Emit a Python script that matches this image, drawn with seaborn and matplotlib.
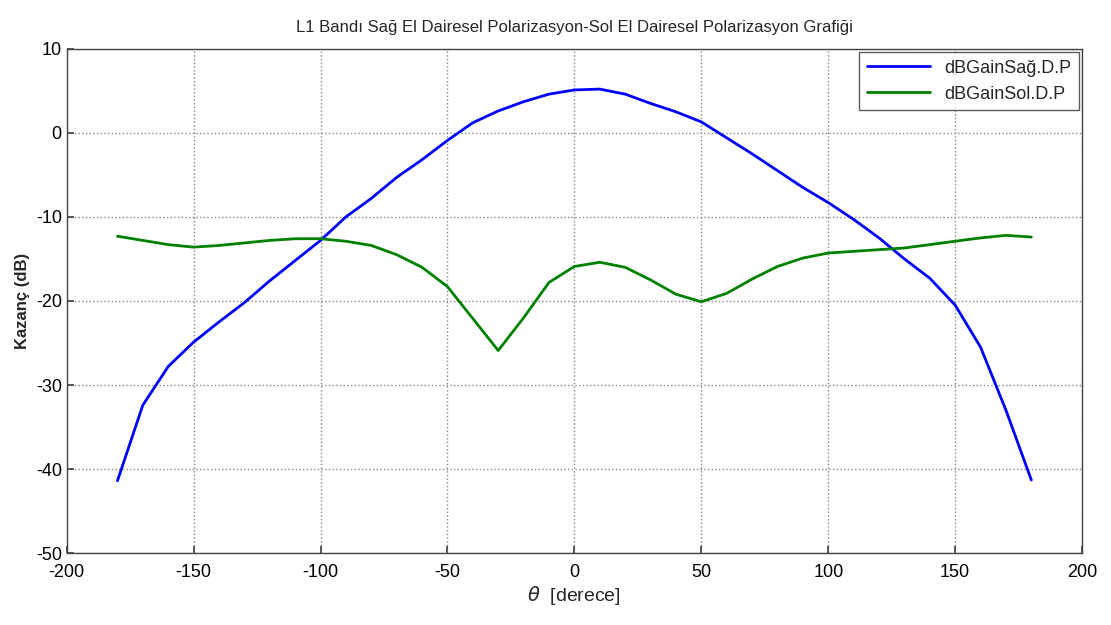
import pandas as pd
import seaborn as sns
import matplotlib.pyplot as plt

# aci degerleri (derece)
theta = list(range(-180, 181, 10))

# sag el dairesel polarizasyon kazanci (dB)
sag_dp = [-41.4, -32.4, -27.8, -24.9, -22.5, -20.2, -17.6, -15.2, -12.8, -10.0,
          -7.8, -5.3, -3.2, -0.9, 1.2, 2.6, 3.7, 4.6, 5.1,
          5.2, 4.6, 3.5, 2.5, 1.3, -0.6, -2.5, -4.5, -6.5, -8.3,
          -10.3, -12.5, -15.0, -17.3, -20.5, -25.5, -33.0, -41.3]

# sol el dairesel polarizasyon kazanci (dB)
sol_dp = [-12.3, -12.8, -13.3, -13.6, -13.4, -13.1, -12.8, -12.6, -12.6, -12.9,
          -13.4, -14.5, -16.0, -18.3, -22.1, -25.9, -22.0, -17.8, -15.9,
          -15.4, -16.0, -17.5, -19.2, -20.1, -19.1, -17.4, -15.9, -14.9,
          -14.3, -14.1, -13.9, -13.7, -13.3, -12.9, -12.5, -12.2, -12.4]

seriler = ["dBGainSağ.D.P", "dBGainSol.D.P"]

df = pd.concat([
    pd.DataFrame({"theta": theta, "gain": sag_dp, "seri": seriler[0]}),
    pd.DataFrame({"theta": theta, "gain": sol_dp, "seri": seriler[1]}),
])

sns.set_theme(style="ticks")
plt.rcParams["font.family"] = ["Liberation Sans", "DejaVu Sans"]
plt.rcParams["axes.unicode_minus"] = False

fig = plt.figure(figsize=(11.11, 6.25), dpi=100)
ax = fig.add_axes([0.060, 0.115, 0.914, 0.807])

sns.lineplot(data=df, x="theta", y="gain", hue="seri",
             palette={seriler[0]: "#0000ff", seriler[1]: "#008000"},
             linewidth=2, ax=ax)

ax.set_xlim(-200, 200)
ax.set_ylim(-50, 10)
ax.set_xticks(range(-200, 201, 50))
ax.set_yticks(range(-50, 11, 10))
ax.grid(True, linestyle=":", color="#888888", linewidth=1)
ax.tick_params(direction="in", length=5, labelsize=13, color="#444444",
               labelcolor="black")
ax.tick_params(axis="x", pad=8)
for s in ax.spines.values():
    s.set_color("#444444")
    s.set_linewidth(1)

ax.set_title("L1 Bandı Sağ El Dairesel Polarizasyon-Sol El Dairesel Polarizasyon Grafiği",
             fontsize=12, pad=12)
ax.set_xlabel(r"$\theta$  [derece]", fontsize=14, labelpad=2)
ax.set_ylabel("Kazanç (dB)", fontsize=12, fontweight="bold")

leg = ax.legend(loc="upper right", fontsize=13, frameon=True, fancybox=False,
                edgecolor="#333333", borderaxespad=0.2, handlelength=3.5)
leg.get_frame().set_linewidth(1)

fig.savefig("out.png", dpi=100)
